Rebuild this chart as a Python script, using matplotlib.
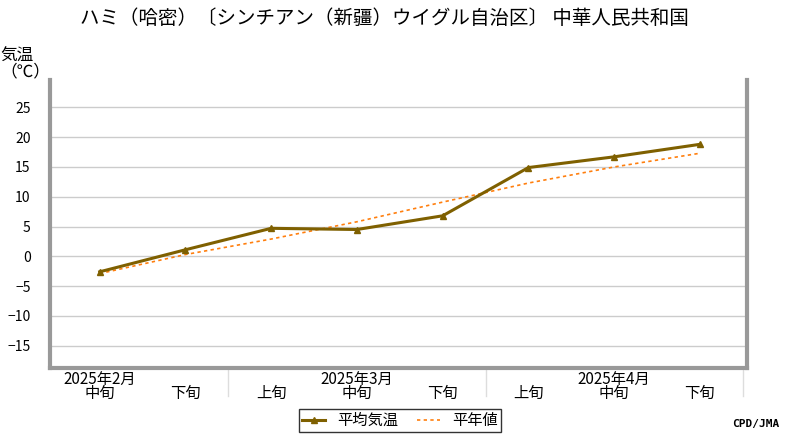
import matplotlib
matplotlib.use("Agg")
import matplotlib.pyplot as plt

plt.rcParams['font.family'] = 'Noto Sans CJK JP'

periods = ["中旬", "下旬", "上旬", "中旬", "下旬", "上旬", "中旬", "下旬"]
months = {0: "2025年2月", 3: "2025年3月", 6: "2025年4月"}
avg_temp = [-2.6, 1.1, 4.7, 4.5, 6.8, 14.9, 16.7, 18.8]
normal = [-2.9, 0.3, 2.9, 5.8, 9.1, 12.3, 15.0, 17.3]
yticks = [-15, -10, -5, 0, 5, 10, 15, 20, 25]

fig = plt.figure(figsize=(8, 4.4), dpi=100)
ax = fig.add_axes([50/800, 1-368/440, 697/800, 288/440])
x = list(range(len(periods)))
for t in yticks:
    ax.axhline(t, color='#cccccc', lw=1, zorder=0)
l1, = ax.plot(x, avg_temp, color='#7f6000', lw=2.2, marker='^', ms=5, label='平均気温', zorder=3)
l2, = ax.plot(x, normal, ls=(0, (2, 2)), color='#ff7f0e', lw=1.2, label='平年値', zorder=2)
ax.set_xlim(-0.58, 7.55)
ax.set_ylim(-18.75, 29.6)
ax.set_yticks(yticks)
ax.set_xticks(x)
ax.set_xticklabels(periods, fontsize=11)
ax.tick_params(axis='x', length=0, pad=12)
ax.tick_params(axis='y', length=0, labelsize=10, pad=14)
for s in ['left', 'bottom', 'right']:
    ax.spines[s].set_color('#999999'); ax.spines[s].set_linewidth(3)
ax.spines['top'].set_visible(False)
for i, m in months.items():
    ax.text(i, -19.3, m, ha='center', va='top', fontsize=11)
for b in [1.5, 4.5, 7.5]:
    ax.plot([b, b], [-18.75, -23.5], color='#dddddd', lw=1, clip_on=False)
fig.text(0.1, 0.945, "ハミ（哈密）〔シンチアン（新疆）ウイグル自治区〕 中華人民共和国",
         ha='left', fontsize=14)
fig.text(0.0, 0.855, "気温\n（℃）", fontsize=12, va='center', linespacing=0.9)
fig.text(0.915, 0.03, "CPD/JMA", fontsize=8, fontweight='bold', family='DejaVu Sans Mono')
leg = fig.legend(handles=[l1, l2], loc='lower center', bbox_to_anchor=(0.5, 0.0), ncol=2,
                 fontsize=11, frameon=True, fancybox=False, edgecolor='black',
                 handlelength=1.5, borderpad=0.2, columnspacing=1.2)
leg.get_frame().set_linewidth(1)
fig.savefig("out.png")
